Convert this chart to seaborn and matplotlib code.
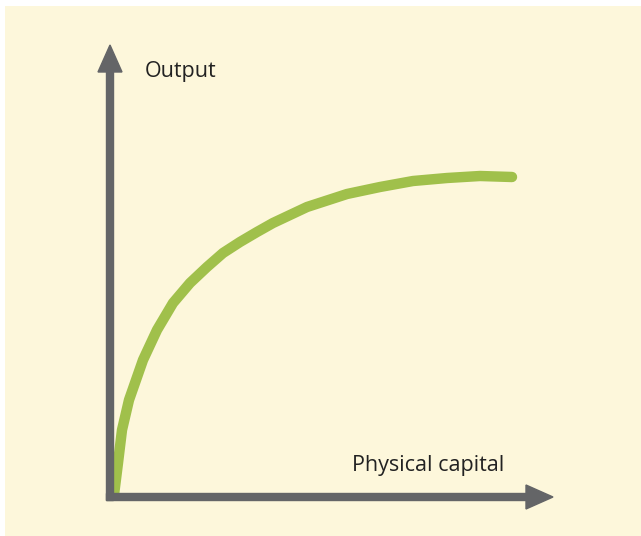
import matplotlib
matplotlib.use("Agg")
import matplotlib.pyplot as plt
from matplotlib.patches import Rectangle
import seaborn as sns
import pandas as pd

# Data (arbitrary units)
capital = [4, 8, 12, 19, 33, 47, 63, 80, 97, 113, 130, 147, 163, 180, 197,
           237, 270, 303, 337, 370, 402]
output = [2, 34, 67, 97, 137, 167, 194, 214, 230, 244, 255, 265, 274, 282, 290,
          303, 310, 316, 319, 321, 320]

x_label = "Physical capital"
y_label = "Output"

cream = "#FDF7DB"
grey = "#646567"
green = "#A0C04B"

df = pd.DataFrame({"Capital": capital, "Output": output})

sns.set_theme(style="white")
plt.rcParams["font.family"] = ["Open Sans", "DejaVu Sans"]

fig = plt.figure(figsize=(6.41, 5.36), dpi=100)
fig.patch.set_facecolor("white")
# cream panel with a thin white margin on top and left
fig.patches.append(Rectangle((5, 0), 641, 530, transform=None,
                             facecolor=cream, edgecolor="none", zorder=-10))

ax = fig.add_axes([0, 0, 1, 1])
ax.set_xlim(-110, 531)
ax.set_ylim(-39, 497)
ax.patch.set_alpha(0)
ax.axis("off")

#Curve
sns.lineplot(data=df, x="Capital", y="Output", ax=ax, color=green,
             linewidth=7.5, solid_capstyle="round", solid_joinstyle="round",
             zorder=2)

#Axes arrows
ax.arrow(0, -3.5, 0, 455.5, width=7, head_width=24, head_length=27,
         length_includes_head=True, color=grey, zorder=3)
ax.arrow(-3.5, 0, 446.5, 0, width=7, head_width=24, head_length=27,
         length_includes_head=True, color=grey, zorder=3)

ax.text(35, 425, y_label, fontsize=15.5, color="#222222", va="center", ha="left")
ax.text(242, 31, x_label, fontsize=15.5, color="#222222", va="center", ha="left")

fig.savefig("out.png", dpi=100)
